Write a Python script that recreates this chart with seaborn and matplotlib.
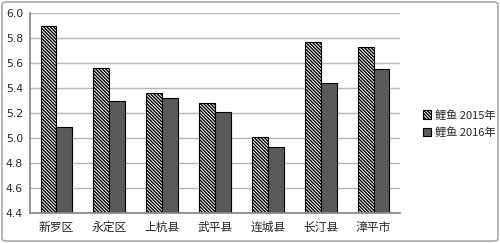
import matplotlib
matplotlib.use("Agg")
import matplotlib.pyplot as plt
import seaborn as sns
import pandas as pd
from matplotlib.patches import FancyBboxPatch, Patch
from matplotlib.ticker import FixedLocator

categories = ["新罗区", "永定区", "上杭县", "武平县", "连城县", "长汀县", "漳平市"]
series_names = ["鲤鱼 2015年", "鲤鱼 2016年"]
values_2015 = [5.90, 5.56, 5.36, 5.28, 5.01, 5.77, 5.73]
values_2016 = [5.09, 5.30, 5.32, 5.21, 4.93, 5.44, 5.55]
yticks = [4.4, 4.6, 4.8, 5.0, 5.2, 5.4, 5.6, 5.8, 6.0]

df = pd.DataFrame({
    "region": categories * 2,
    "series": [series_names[0]] * len(categories) + [series_names[1]] * len(categories),
    "value": values_2015 + values_2016,
})

sns.set_theme(style="white")
plt.rcParams["font.family"] = ["Noto Sans CJK SC", "DejaVu Sans"]
plt.rcParams["hatch.linewidth"] = 1.0

HATCH = "\\" * 10

fig = plt.figure(figsize=(5.0, 2.43), dpi=100)
ax = fig.add_axes([0.06, 0.125, 0.74, 0.82])

sns.barplot(data=df, x="region", y="value", hue="series",
            palette=["white", "#595959"], edgecolor="black", linewidth=0.8,
            width=0.6, ax=ax, legend=False, saturation=1)

n = len(categories)
for i, p in enumerate(ax.patches[:2 * n]):
    if i < n:
        p.set_hatch(HATCH)
        p.set_facecolor("white")

ax.set_ylim(4.4, 6.0)
ax.set_yticks(yticks)
ax.set_yticklabels([f"{v:.1f}" for v in yticks], fontsize=7.8, family=["DejaVu Sans"])
ax.yaxis.grid(True, color="#b5b5b5", linewidth=1.0)
ax.set_axisbelow(True)
ax.set_xlim(-0.5, n - 0.5)
ax.tick_params(axis="x", length=0, labelsize=8.5, pad=6)
ax.tick_params(axis="y", length=3, width=0.8, color="#888888", pad=2)
ax.xaxis.set_minor_locator(FixedLocator([k - 0.5 for k in range(n + 1)]))
ax.tick_params(axis="x", which="minor", length=4, width=0.8, color="#888888", direction="out")
ax.set_xlabel("")
ax.set_ylabel("")
for s in ["top", "right"]:
    ax.spines[s].set_visible(False)
ax.spines["left"].set_color("#888888")
ax.spines["bottom"].set_color("#888888")

handles = [Patch(facecolor="white", edgecolor="black", hatch=HATCH, linewidth=0.8),
           Patch(facecolor="#595959", edgecolor="black", linewidth=0.8)]
fig.legend(handles, series_names, loc="center left", bbox_to_anchor=(0.825, 0.49),
           frameon=False, fontsize=8, handlelength=0.8, handleheight=0.8,
           handletextpad=0.3, labelspacing=0.6)

border = FancyBboxPatch((0.004, 0.008), 0.992, 0.984, boxstyle="round,pad=0,rounding_size=0.01",
                        transform=fig.transFigure, fill=False, edgecolor="#999999", linewidth=1.0)
fig.patches.append(border)

fig.savefig("out.png", dpi=100)
